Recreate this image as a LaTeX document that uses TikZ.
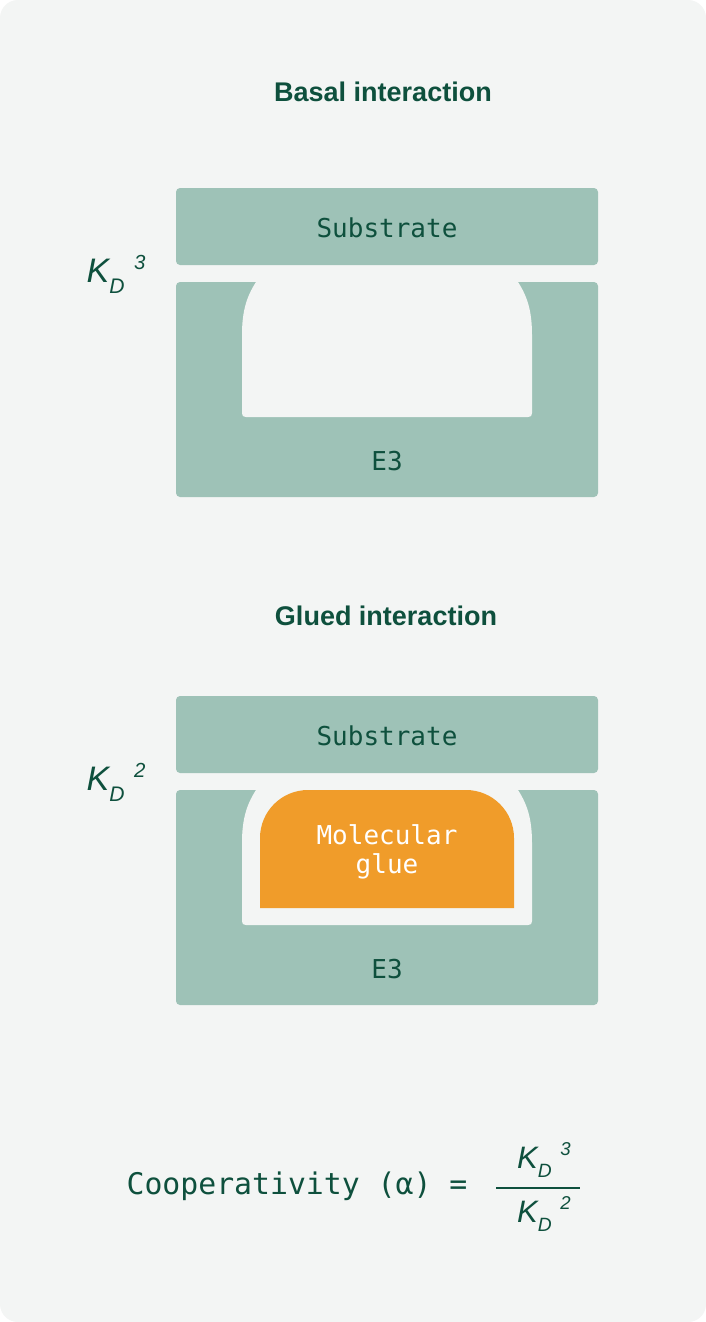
\documentclass[tikz,border=0pt]{standalone}
\usepackage{fontspec}
\usepackage{tikz}
\usetikzlibrary{positioning,calc}
\newfontfamily\titlefont{Liberation Sans}
\newfontfamily\monofont{DejaVu Sans Mono}
\newfontfamily\kfont{Liberation Sans}
\definecolor{panelgray}{RGB}{243,245,244}
\definecolor{blockgreen}{RGB}{158,194,183}
\definecolor{inkgreen}{RGB}{14,80,61}
\definecolor{glueorange}{RGB}{240,156,42}
\tikzset{
  block/.style={fill=blockgreen, rounded corners=4pt},
  titlelbl/.style={font=\titlefont\bfseries\fontsize{27}{30}\selectfont, text=inkgreen},
  boxlbl/.style={font=\monofont\fontsize{26}{30}\selectfont, text=inkgreen},
  gluelbl/.style={font=\monofont\fontsize{26}{29}\selectfont, text=white, align=center},
  kdlbl/.style={font=\kfont\itshape\fontsize{34}{36}\selectfont, text=inkgreen},
  eqlbl/.style={font=\monofont\fontsize{29.8}{32}\selectfont, text=inkgreen},
  fracln/.style={line width=1.3pt, inkgreen},
}
% K_D with an exponent
\newcommand{\kdsym}[1]{K\raisebox{-0.3em}{\scalebox{0.62}{D}}\hspace{0.28em}\raisebox{0.4em}{\scalebox{0.6}{#1}}}
% substrate over E3, the cup cut into E3
\newcommand{\bindpair}[2]{%
  \begin{scope}[yshift=#1]
    \fill[block] (176,188) rectangle (598,265);
    \fill[block] (176,282) rectangle (598,497);
    \fill[panelgray] (258,279) .. controls (247,295) and (242,310) .. (242,335)
      -- (242,413) .. controls (242,416) and (243,417) .. (246,417)
      -- (528,417) .. controls (531,417) and (532,416) .. (532,413)
      -- (532,335) .. controls (532,310) and (527,295) .. (516,279) -- cycle;
    \node[boxlbl] (sub#2) at (387,228) {Substrate};
    \node[boxlbl] (ethree#2) at (387,461) {E3};
  \end{scope}}

\begin{document}
\begin{tikzpicture}[x=1pt, y=-1pt]
  % page
  \fill[white] (0,0) rectangle (706,1322);
  \fill[panelgray, rounded corners=18pt] (0,0) rectangle (706,1322);

  % basal
  \node[titlelbl] (basaltitle) at (383,92) {Basal interaction};
  \bindpair{0pt}{A}
  \node[kdlbl] (kdA) at (116,274) {\kdsym{3}};

  % glued
  \node[titlelbl] (gluedtitle) at (386,616) {Glued interaction};
  \bindpair{-508pt}{B}
  \fill[glueorange, rounded corners=48pt] (260,908) -- (260,790) -- (514,790) -- (514,908);
  \node[gluelbl] (glue) at (387,852) {Molecular\\glue};
  \node[kdlbl] (kdB) at (116,782) {\kdsym{2}};

  % cooperativity
  \node[eqlbl] (coop) at (297,1186) {Cooperativity (α) =};
  \coordinate (fracL) at (496,1188);
  \coordinate (fracR) at (580,1188);
  \draw[fracln] (fracL) -- (fracR);
  \node[kdlbl, font=\kfont\itshape\fontsize{31}{33}\selectfont] (fnum) at (544,1160) {\kdsym{3}};
  \node[kdlbl, font=\kfont\itshape\fontsize{31}{33}\selectfont] (fden) at (544,1214) {\kdsym{2}};
\end{tikzpicture}
\end{document}
